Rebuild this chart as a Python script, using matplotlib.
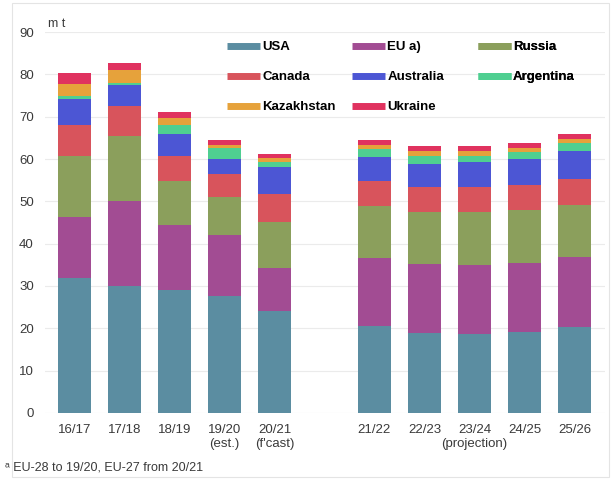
import numpy as np
import matplotlib
matplotlib.use("Agg")
import matplotlib.pyplot as plt
from matplotlib.lines import Line2D
from matplotlib.patches import Rectangle

plt.rcParams["font.family"] = ["Liberation Sans", "DejaVu Sans"]

# --- data (m t) ---
seasons = ["16/17", "17/18", "18/19", "19/20\n(est.)", "20/21\n(f'cast)",
           "21/22", "22/23", "23/24\n(projection)", "24/25", "25/26"]
positions = [0, 1, 2, 3, 4, 6, 7, 8, 9, 10]

usa        = [31.8, 29.9, 29.1, 27.7, 24.0, 20.6, 19.0, 18.6, 19.2, 20.4]
eu         = [14.6, 20.1, 15.3, 14.4, 10.2, 16.0, 16.2, 16.4, 16.3, 16.4]
russia     = [14.2, 15.5, 10.3,  8.9, 10.8, 12.2, 12.2, 12.4, 12.5, 12.4]
canada     = [ 7.5,  7.1,  6.1,  5.5,  6.7,  5.9,  5.9,  5.9,  5.9,  6.0]
australia  = [ 6.1,  5.0,  5.2,  3.5,  6.5,  5.7,  5.6,  5.9,  6.1,  6.6]
argentina  = [ 0.7,  0.4,  2.1,  2.6,  1.2,  2.0,  1.9,  1.6,  1.6,  2.0]
kazakhstan = [ 2.8,  3.1,  1.6,  0.8,  0.8,  1.0,  1.0,  1.0,  1.1,  1.0]
ukraine    = [ 2.6,  1.7,  1.4,  1.1,  1.0,  1.0,  1.2,  1.3,  1.2,  1.1]

series = [("USA", usa, "#5b8da1"),
          ("EU a)", eu, "#a24c93"),
          ("Russia", russia, "#8b9f5c"),
          ("Canada", canada, "#d8545c"),
          ("Australia", australia, "#4c56d4"),
          ("Argentina", argentina, "#4fcf91"),
          ("Kazakhstan", kazakhstan, "#e6a23b"),
          ("Ukraine", ukraine, "#e0325f")]

fig = plt.figure(figsize=(6.16, 4.79), dpi=100)
ax = fig.add_axes([0.073, 0.138, 0.909, 0.795])

bottom = np.zeros(len(positions))
handles = {}
for name, vals, col in series:
    ax.bar(positions, vals, width=0.66, bottom=bottom, color=col, edgecolor="none", zorder=2)
    bottom += np.array(vals)
    handles[name] = Line2D([], [], color=col, lw=5, solid_capstyle="butt")

ax.set_ylim(0, 90)
ax.set_xlim(-0.59, 10.61)
ax.set_yticks(range(0, 91, 10))
ax.set_xticks(positions)
ax.set_xticklabels(seasons, linespacing=1.25)
ax.tick_params(length=0, labelsize=9.5, colors="#3a3a3a")
ax.tick_params(axis="x", pad=8)
ax.tick_params(axis="y", pad=8)
ax.grid(axis="y", color="#ebebeb", lw=0.8, zorder=0)
for s in ax.spines.values():
    s.set_visible(False)

ax.text(0.006, 1.02, "m t", transform=ax.transAxes, fontsize=9, color="#3a3a3a",
        va="center", ha="left")

# legend laid out as three fixed-width columns, rows read left to right
cols = [["USA", "Canada", "Kazakhstan"],
        ["EU a)", "Australia", "Ukraine"],
        ["Russia", "Argentina"]]
col_x = [0.314, 0.537, 0.761]
for names, x in zip(cols, col_x):
    lg = ax.legend([handles[k] for k in names], names, frameon=False,
                   loc="upper left", bbox_to_anchor=(x, 0.994), borderpad=0,
                   handlelength=2.5, handletextpad=0.15, labelspacing=1.35,
                   prop={"weight": "bold", "size": 9.5})
    ax.add_artist(lg)

fig.text(0.008, 0.023, "ᵃ EU-28 to 19/20, EU-27 from 20/21", fontsize=9,
         color="#3a3a3a", va="center")

fig.patches.append(Rectangle((0.02, 0.005), 0.968, 0.988, transform=fig.transFigure,
                             fill=False, edgecolor="#e4e4e4", lw=0.8))

fig.savefig("out.png", dpi=100)
